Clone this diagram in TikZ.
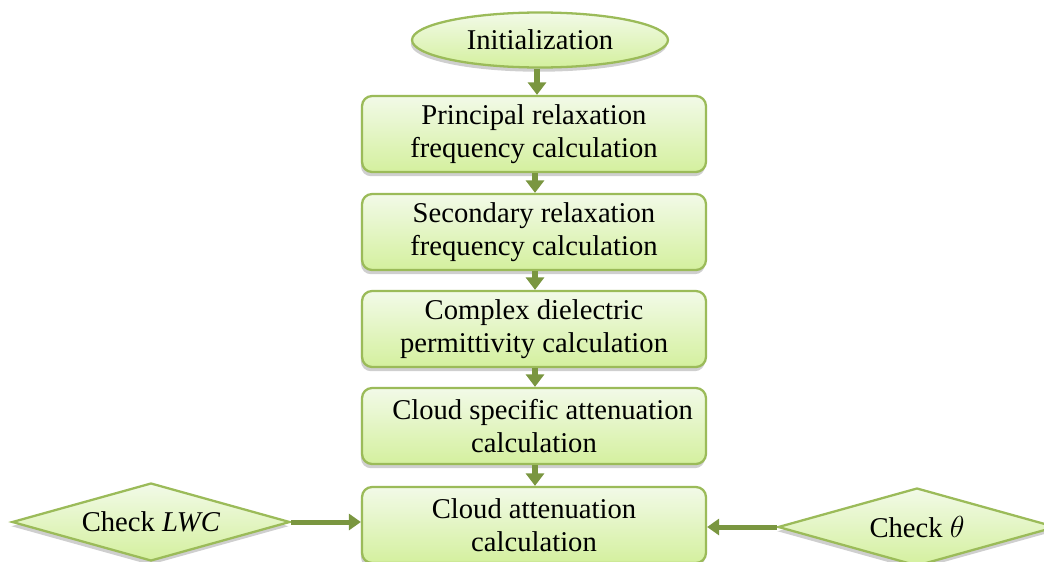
\documentclass[tikz,border=0pt]{standalone}
\usepackage{fontspec}
\setmainfont{Liberation Serif}
\usepackage{amsmath}
\usetikzlibrary{arrows.meta,shapes.geometric,shadows}
\definecolor{BoxLine}{RGB}{155,187,89}
\definecolor{BoxTop}{RGB}{242,250,232}
\definecolor{BoxBottom}{RGB}{212,240,158}
\definecolor{ArrowGreen}{RGB}{122,150,64}
\tikzset{
  boxshadow/.style={drop shadow={shadow xshift=-0.6pt, shadow yshift=-2.4pt, fill=gray!75}},
  stepbox/.style={rectangle, rounded corners=0.2cm, draw=BoxLine, line width=1.3pt,
    top color=BoxTop, bottom color=BoxBottom, minimum width=6.88cm, minimum height=1.52cm,
    align=center, boxshadow, font=\fontsize{16.3}{18.8}\selectfont},
  startbox/.style={ellipse, draw=BoxLine, line width=1.3pt, top color=BoxTop, bottom color=BoxBottom,
    minimum width=5.12cm, minimum height=1.1cm, inner sep=0pt, boxshadow, font=\fontsize{16.3}{18.8}\selectfont},
  checkbox/.style={diamond, draw=BoxLine, line width=1.3pt, top color=BoxTop, bottom color=BoxBottom,
    aspect=3.6, inner sep=0pt, minimum width=5.56cm, minimum height=1.56cm, boxshadow,
    font=\fontsize{16.3}{18.8}\selectfont},
  flow/.style={ArrowGreen, line width=0.12cm, -{Triangle[width=0.36cm,length=0.25cm]}},
  sideflow/.style={ArrowGreen, line width=0.1cm, -{Triangle[width=0.32cm,length=0.24cm]}}
}

\begin{document}
\begin{tikzpicture}[x=0.02cm, y=-0.02cm]
    \useasboundingbox (0,0) rectangle (1044,561);
    \clip (0,0) rectangle (1044,561);
%    Steps
    \node[startbox] (init) at (540,40) {Initialization};
    \node[stepbox] (principal) at (534,134) {Principal relaxation\\frequency calculation};
    \node[stepbox] (secondary) at (534,232) {Secondary relaxation\\frequency calculation};
    \node[stepbox] (permit) at (534,329) {Complex dielectric\\permittivity calculation};
    \node[stepbox] (specific) at (534,426) {\hspace*{0.6em}Cloud specific attenuation\\calculation};
    \node[stepbox] (total) at (534,525) {Cloud attenuation\\calculation};
%    Checks
    \node[checkbox] (lwc) at (151,522) {Check \textit{LWC}};
    \node[checkbox] (theta) at (917,527) {Check $\theta$};

    \draw[flow] (init.south -| 537,0) -- (principal.north -| 537,0);
    \draw[flow] (principal.south -| 535,0) -- (secondary.north -| 535,0);
    \draw[flow] (secondary.south -| 535,0) -- (permit.north -| 535,0);
    \draw[flow] (permit.south -| 535,0) -- (specific.north -| 535,0);
    \draw[flow] (specific.south -| 535,0) -- (total.north -| 535,0);
    \draw[sideflow] (lwc.east) -- (lwc.east -| total.west);
    \draw[sideflow] (theta.west) -- (theta.west -| total.east);
\end{tikzpicture}
\end{document}
